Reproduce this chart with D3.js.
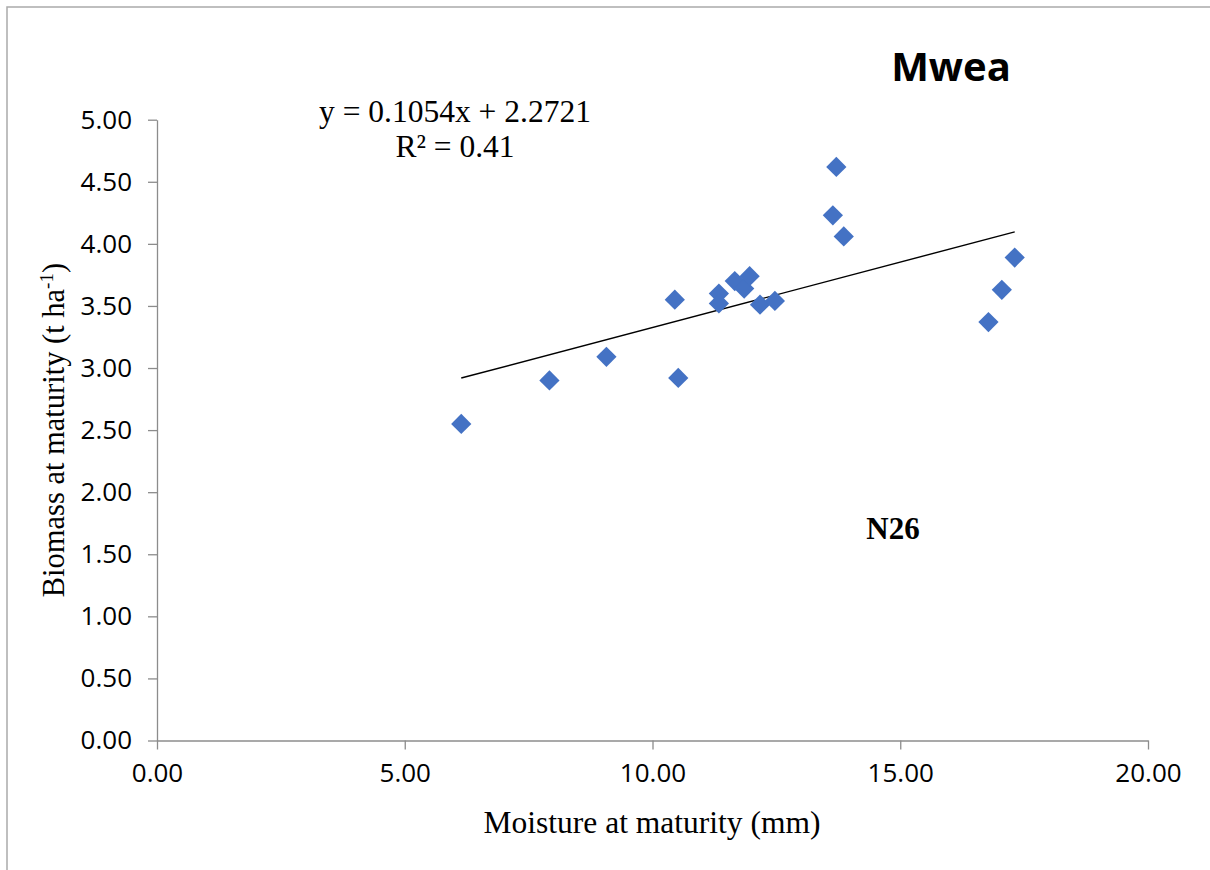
<!DOCTYPE html>
<html>
<head>
<meta charset="utf-8">
<script src="https://cdn.jsdelivr.net/npm/d3@7"></script>
<style>
  html, body { margin: 0; padding: 0; background: #fff; }
  svg { display: block; }
</style>
</head>
<body>
<script>
// ---- data ----
const moisture = [6.14, 7.92, 9.07, 10.45, 10.52, 11.34, 11.34, 11.66, 11.85, 11.96, 12.17, 12.47, 13.71, 13.64, 13.86, 16.78, 17.05, 17.31];
const biomass  = [2.55, 2.90, 3.09, 3.55, 2.92, 3.60, 3.52, 3.70, 3.64, 3.74, 3.51, 3.54, 4.62, 4.23, 4.06, 3.37, 3.63, 3.89];
const xTicks = [0, 5, 10, 15, 20];
const yTicks = [0, 0.5, 1, 1.5, 2, 2.5, 3, 3.5, 4, 4.5, 5];
const trendSlope = [0.1054];
const trendIntercept = [2.2721];
const equationText = ["y = 0.1054x + 2.2721", "R² = 0.41"];
const titleText = "Mwea";
const subLabel = "N26";

const W = 1210, H = 870;
const svg = d3.select("body").append("svg").attr("width", W).attr("height", H);

// outer frame
svg.append("rect").attr("x", 7).attr("y", 7).attr("width", W + 10).attr("height", H + 10)
  .attr("fill", "none").attr("stroke", "#ababab").attr("stroke-width", 1.5);

const x = d3.scaleLinear().domain([0, 20]).range([157, 1148]);
const y = d3.scaleLinear().domain([0, 5]).range([740.5, 119.7]);

const axisColor = "#8c8c8c";
const tickFont = "'Open Sans', 'DejaVu Sans', sans-serif";

// x axis
const gx = svg.append("g").attr("transform", `translate(0,${y(0)})`)
  .call(d3.axisBottom(x).tickValues(xTicks).tickFormat(d3.format(".2f")).tickSize(9).tickSizeOuter(0).tickPadding(14));
gx.select(".domain").attr("stroke", axisColor).attr("stroke-width", 1.3);
gx.selectAll(".tick line").attr("stroke", axisColor).attr("stroke-width", 1.3);
gx.selectAll(".tick text").attr("fill", "#000").style("font-family", tickFont).style("font-size", "26px");

// y axis
const gy = svg.append("g").attr("transform", `translate(${x(0)},0)`)
  .call(d3.axisLeft(y).tickValues(yTicks).tickFormat(d3.format(".2f")).tickSize(9).tickSizeOuter(0).tickPadding(16));
gy.select(".domain").attr("stroke", axisColor).attr("stroke-width", 1.3);
gy.selectAll(".tick line").attr("stroke", axisColor).attr("stroke-width", 1.3);
gy.selectAll(".tick text").attr("fill", "#000").style("font-family", tickFont).style("font-size", "26px");

// trend line
const xr = d3.extent(moisture);
const f = v => trendSlope[0] * v + trendIntercept[0];
svg.append("line")
  .attr("x1", x(xr[0])).attr("y1", y(f(xr[0])))
  .attr("x2", x(xr[1])).attr("y2", y(f(xr[1])))
  .attr("stroke", "#000").attr("stroke-width", 1.4);

// points (diamonds)
const sym = d3.symbol().type(d3.symbolSquare).size(205);
svg.append("g").selectAll("path").data(moisture.map((m, i) => [m, biomass[i]]))
  .join("path")
  .attr("d", sym)
  .attr("transform", d => `translate(${x(d[0])},${y(d[1])}) rotate(45)`)
  .attr("fill", "#4472C4");

// equation
const serif = "'Liberation Serif', 'Times New Roman', serif";
svg.append("text").attr("x", 455).attr("y", 122).attr("text-anchor", "middle")
  .style("font-family", serif).style("font-size", "31.5px").text(equationText[0]);
svg.append("text").attr("x", 455).attr("y", 157).attr("text-anchor", "middle")
  .style("font-family", serif).style("font-size", "31.5px").text(equationText[1]);

// title
svg.append("text").attr("x", 951).attr("y", 81).attr("text-anchor", "middle")
  .style("font-family", "'Open Sans', 'DejaVu Sans', sans-serif").style("font-weight", "bold")
  .style("font-size", "40px").text(titleText);

// N26
svg.append("text").attr("x", 893).attr("y", 539).attr("text-anchor", "middle")
  .style("font-family", serif).style("font-weight", "bold").style("font-size", "31px").text(subLabel);

// x axis title
svg.append("text").attr("x", 652).attr("y", 833).attr("text-anchor", "middle")
  .style("font-family", serif).style("font-size", "31.5px").text("Moisture at maturity (mm)");

// y axis title
const yl = svg.append("text").attr("transform", `translate(64,${(y(0) + y(5)) / 2}) rotate(-90)`)
  .attr("text-anchor", "middle").style("font-family", serif).style("font-size", "30.5px");
yl.append("tspan").text("Biomass at maturity (t ha");
yl.append("tspan").attr("dy", -11).style("font-size", "19px").text("-1");
yl.append("tspan").attr("dy", 11).text(")");
</script>
</body>
</html>
